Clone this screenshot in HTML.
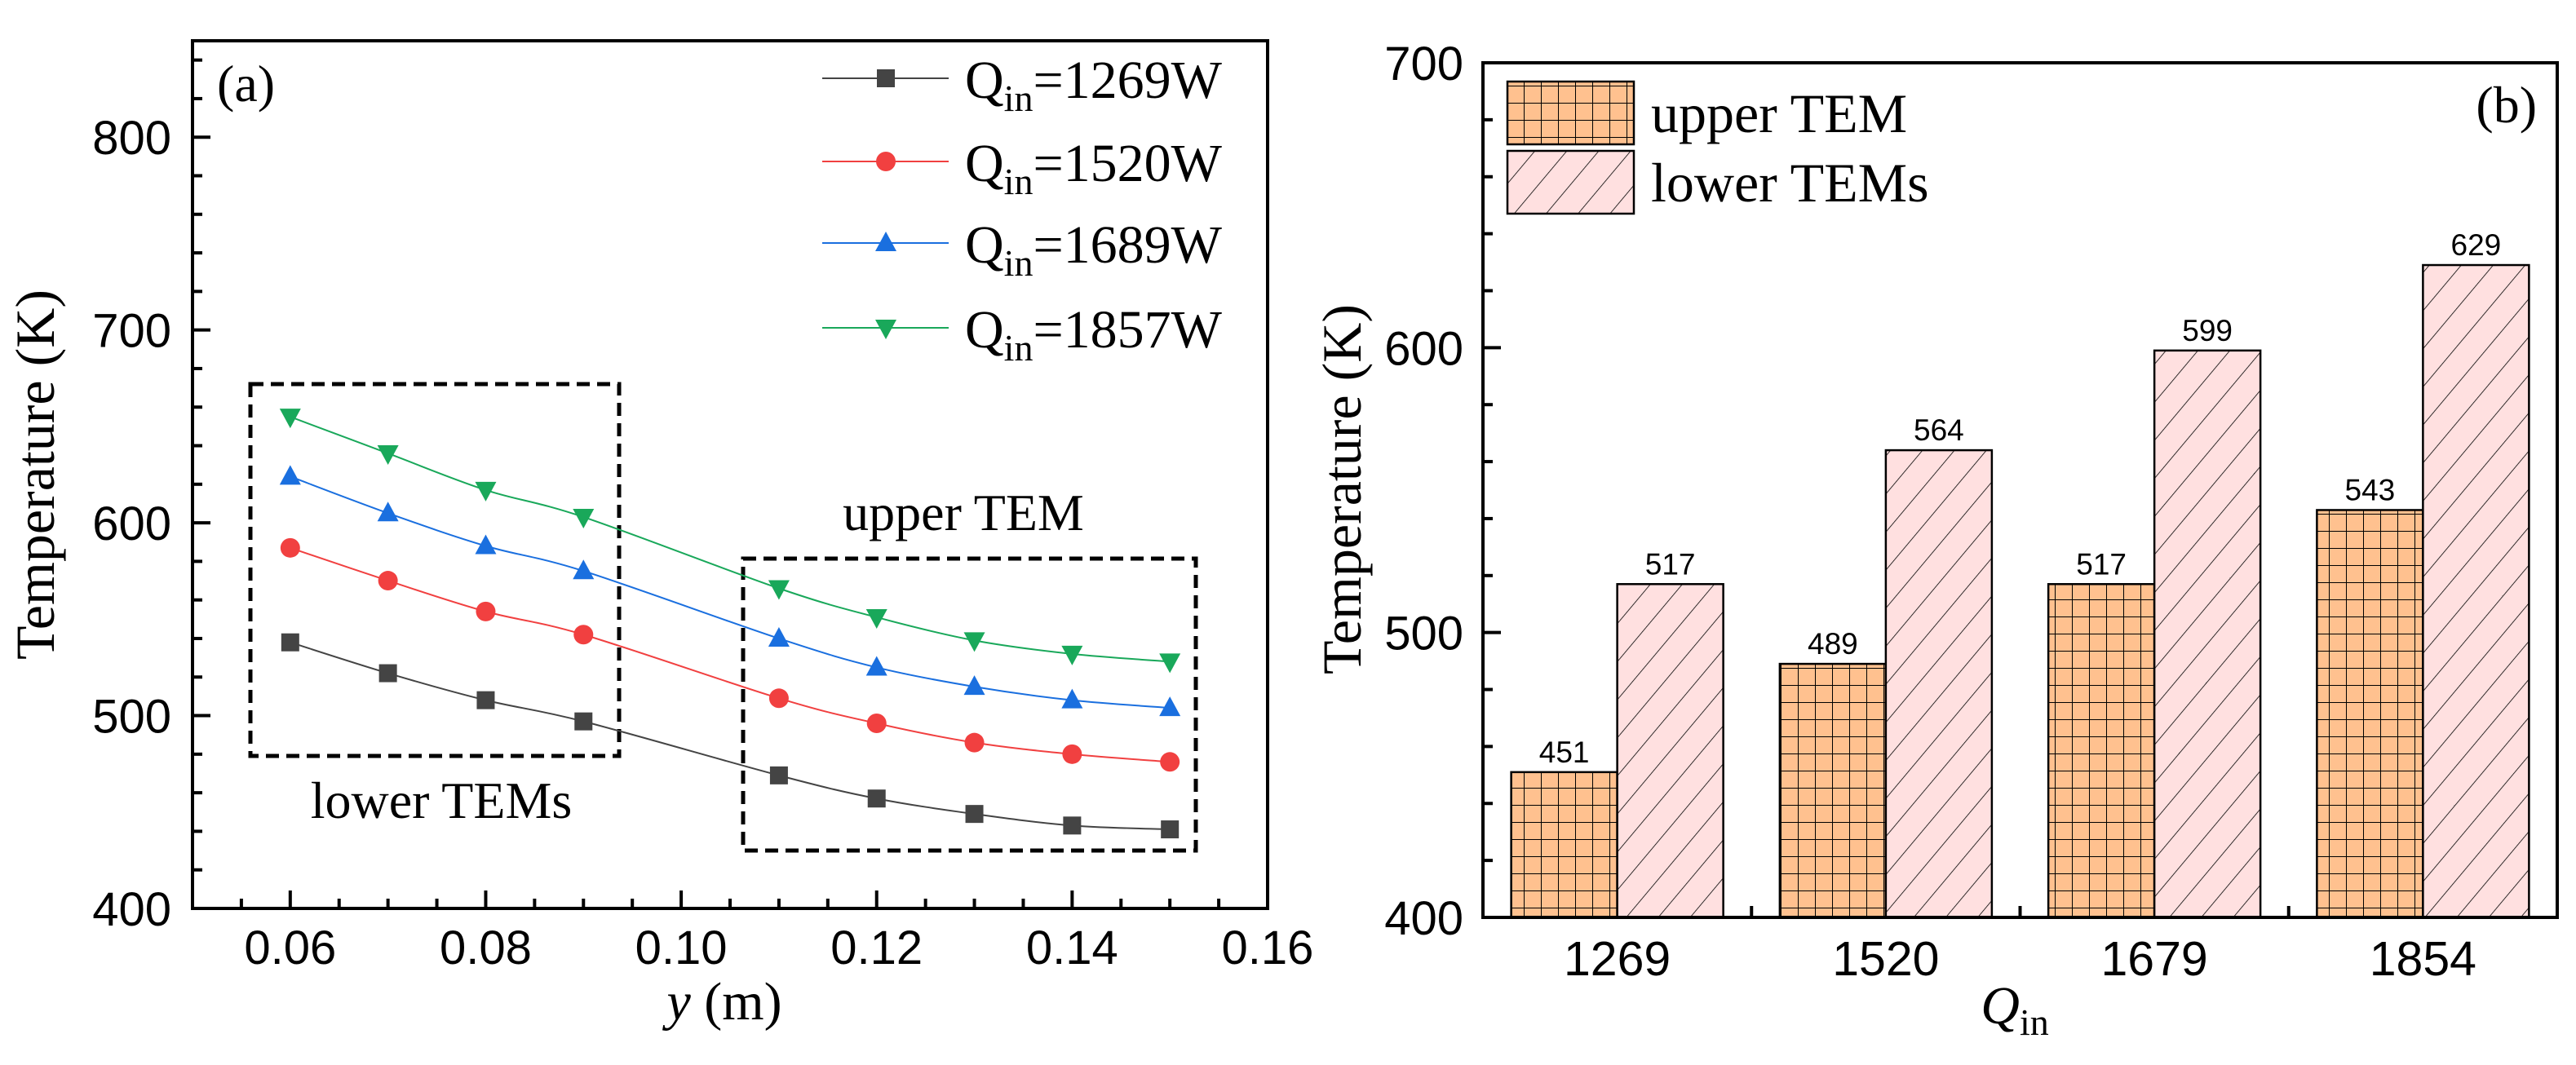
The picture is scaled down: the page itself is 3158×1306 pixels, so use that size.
<!DOCTYPE html>
<html><head><meta charset="utf-8">
<style>
html,body{margin:0;padding:0;background:#fff;}
svg{display:block;}
.sans{font-family:"Liberation Sans",Arial,sans-serif;}
.serif{font-family:"Liberation Serif","Times New Roman",serif;}
</style></head>
<body>
<svg id="fig" width="3158" height="1306" viewBox="0 0 3158 1306" xmlns="http://www.w3.org/2000/svg">
<defs>
<pattern id="gridPat" patternUnits="userSpaceOnUse" width="21" height="21" x="1847" y="0">
<rect width="21" height="21" fill="#FFC18F"/>
<path d="M0 0V21M0 0H21" stroke="#000" stroke-width="2"/>
</pattern>
<pattern id="diagPat" patternUnits="userSpaceOnUse" width="30" height="30" patternTransform="rotate(40)">
<rect width="30" height="30" fill="#FFE0E0"/>
<path d="M0 0V30" stroke="#000" stroke-width="1.6"/>
</pattern>
</defs>
<g id="panelA"></g>
<g id="panelB"></g>
</svg>
<script>
// ---------- Panel (a) data ----------
const xsA = [0.06,0.07,0.08,0.09,0.11,0.12,0.13,0.14,0.15];
const s1269 = [538,522,508,497,469,457,449,443,441];
const s1520 = [587,570,554,542,509,496,486,480,476];
const s1689 = [624,605,588,575,540,525,515,508,504];
const s1857 = [655,636,617,603,566,551,539,532,528];
const seriesLabels = ["1269","1520","1689","1857"];
const xTicksA = [0.06,0.08,0.10,0.12,0.14,0.16];
const yTicksA = [400,500,600,700,800];
// ---------- Panel (b) data ----------
const catsB = ["1269","1520","1679","1854"];
const upperB = [451,489,517,543];
const lowerB = [517,564,599,629];
const yTicksB = [400,500,600,700];

const NS="http://www.w3.org/2000/svg";
function mk(parent,tag,attrs,text){const e=document.createElementNS(NS,tag);for(const k in attrs)e.setAttribute(k,attrs[k]);if(text!==undefined)e.textContent=text;parent.appendChild(e);return e;}

// ===== Panel A =====
const A=document.getElementById('panelA');
const aL=236,aR=1554,aT=50,aB=1114;
const xA=v=>aL+(v-0.05)/(0.16-0.05)*(aR-aL);
const yA=v=>aB-(v-400)/(850-400)*(aB-aT);
// ticks
for(let v=0.05;v<=0.1601;v+=0.005){const px=xA(v);const major=Math.abs(Math.round(v*100)/100-v)<1e-6&&Math.round(v*100)%2===0;
 const t=mk(A,'line',{x1:px,x2:px,y1:aB,y2:aB-(major?22:12),stroke:'#000','stroke-width':4});
 
 }
for(let v=400;v<=850;v+=20){const py=yA(v);const major=v%100===0;
 const t=mk(A,'line',{x1:aL,x2:aL+(major?22:12),y1:py,y2:py,stroke:'#000','stroke-width':4});
 
 }
mk(A,'rect',{x:aL,y:aT,width:aR-aL,height:aB-aT,fill:'none',stroke:'#000','stroke-width':4,});
xTicksA.forEach(v=>{const t=mk(A,'text',{x:xA(v),y:1182,'text-anchor':'middle','font-size':58,class:'sans'},v.toFixed(2));
 
 });
yTicksA.forEach(v=>{const t=mk(A,'text',{x:210,y:yA(v)+21,'text-anchor':'end','font-size':58,class:'sans'},String(v));
 
 });
mk(A,'text',{x:0,y:0,transform:'translate(66,582) rotate(-90)','text-anchor':'middle','font-size':68,class:'serif',},'Temperature (K)');
const xt=mk(A,'text',{x:888,y:1250,'text-anchor':'middle','font-size':66,class:'serif',});
mk(xt,'tspan',{'font-style':'italic'},'y');mk(xt,'tspan',{},' (m)');
mk(A,'text',{x:266,y:124,'font-size':64,class:'serif',},'(a)');
// dashed boxes
mk(A,'rect',{x:307,y:471,width:452,height:456,fill:'none',stroke:'#000','stroke-width':5,'stroke-dasharray':'16 9',});
mk(A,'rect',{x:911,y:685,width:555,height:358,fill:'none',stroke:'#000','stroke-width':5,'stroke-dasharray':'16 9',});
mk(A,'text',{x:541,y:1003,'text-anchor':'middle','font-size':64,class:'serif',},'lower TEMs');
mk(A,'text',{x:1181,y:650,'text-anchor':'middle','font-size':64,class:'serif',},'upper TEM');
// series
const colors=['#444444','#F14040','#1A6FDF','#19A85A'];
const allS=[s1269,s1520,s1689,s1857];
const markers=['square','circle','up','down'];
function marker(g,type,cx,cy,c){
 if(type==='square')return mk(g,'rect',{x:cx-11,y:cy-11,width:22,height:22,fill:c});
 if(type==='circle')return mk(g,'circle',{cx:cx,cy:cy,r:12,fill:c});
 if(type==='up')return mk(g,'polygon',{points:`${cx},${cy-14} ${cx-13},${cy+10} ${cx+13},${cy+10}`,fill:c});
 return mk(g,'polygon',{points:`${cx},${cy+14} ${cx-13},${cy-10} ${cx+13},${cy-10}`,fill:c});
}
function spline(pts){let d=`M${pts[0][0]},${pts[0][1]}`;
 for(let i=0;i<pts.length-1;i++){const p0=pts[Math.max(0,i-1)],p1=pts[i],p2=pts[i+1],p3=pts[Math.min(pts.length-1,i+2)];
  const c1=[p1[0]+(p2[0]-p0[0])/6,p1[1]+(p2[1]-p0[1])/6],c2=[p2[0]-(p3[0]-p1[0])/6,p2[1]-(p3[1]-p1[1])/6];
  d+=` C${c1[0]},${c1[1]} ${c2[0]},${c2[1]} ${p2[0]},${p2[1]}`;}return d;}
allS.forEach((s,k)=>{
 const g=mk(A,'g',{});
 
 
 const pts=xsA.map((x,i)=>[xA(x),yA(s[i])]);
 mk(g,'path',{d:spline(pts),fill:'none',stroke:colors[k],'stroke-width':2});
 pts.forEach(p=>{const m=marker(g,markers[k],p[0],p[1],colors[k]);
  
  });
 // legend
 const ly=[96,198,298,402][k];
 const lg=mk(A,'g',{});
 
 
 mk(lg,'line',{x1:1008,x2:1163,y1:ly,y2:ly,stroke:colors[k],'stroke-width':2});
 marker(lg,markers[k],1086,ly,colors[k]);
 const tx=mk(lg,'text',{x:1183,y:ly+24,'font-size':66,class:'serif'});
 mk(tx,'tspan',{},'Q');mk(tx,'tspan',{dy:16,'font-size':46},'in');mk(tx,'tspan',{dy:-16},'='+seriesLabels[k]+'W');
});

// ===== Panel B =====
const B=document.getElementById('panelB');
const bL=1818,bR=3135,bT=77,bB=1125;
const yB=v=>bB-(v-400)/(700-400)*(bB-bT);
const band=(bR-bL)/catsB.length;
const barW=130;
catsB.forEach((c,i)=>{
 const cx=bL+band*(i+0.5);
 const ux=cx-barW, lx=cx;
 const ub=mk(B,'rect',{x:ux,y:yB(upperB[i]),width:barW,height:bB-yB(upperB[i]),fill:'url(#gridPat)',stroke:'#000','stroke-width':2.5});
 
 
 const lb=mk(B,'rect',{x:lx,y:yB(lowerB[i]),width:barW,height:bB-yB(lowerB[i]),fill:'url(#diagPat)',stroke:'#000','stroke-width':2.5});
 
 
 const t1=mk(B,'text',{x:ux+barW/2,y:yB(upperB[i])-12,'text-anchor':'middle','font-size':37,class:'sans'},String(upperB[i]));
 
 
 const t2=mk(B,'text',{x:lx+barW/2,y:yB(lowerB[i])-12,'text-anchor':'middle','font-size':37,class:'sans'},String(lowerB[i]));
 
 
 const tl=mk(B,'text',{x:cx,y:1196,'text-anchor':'middle','font-size':59,class:'sans'},c);
 
 
 if(i>0){const t=mk(B,'line',{x1:bL+band*i,x2:bL+band*i,y1:bB,y2:bB-14,stroke:'#000','stroke-width':4});
  
  }
});
for(let v=400;v<=700;v+=20){const py=yB(v);const major=v%100===0;
 const t=mk(B,'line',{x1:bL,x2:bL+(major?22:12),y1:py,y2:py,stroke:'#000','stroke-width':4});
 
 }
yTicksB.forEach(v=>{const t=mk(B,'text',{x:1794,y:yB(v)+21,'text-anchor':'end','font-size':58,class:'sans'},String(v));
 
 });
mk(B,'rect',{x:bL,y:bT,width:bR-bL,height:bB-bT,fill:'none',stroke:'#000','stroke-width':4,});
mk(B,'text',{x:0,y:0,transform:'translate(1668,600) rotate(-90)','text-anchor':'middle','font-size':68,class:'serif',},'Temperature (K)');
const qt=mk(B,'text',{x:2470,y:1255,'text-anchor':'middle','font-size':66,class:'serif',});
mk(qt,'tspan',{'font-style':'italic'},'Q');mk(qt,'tspan',{dy:14,'font-size':46},'in');
mk(B,'text',{x:3110,y:150,'text-anchor':'end','font-size':64,class:'serif',},'(b)');
const lg1=mk(B,'g',{});
mk(lg1,'rect',{x:1848,y:100,width:155,height:77,fill:'url(#gridPat)',stroke:'#000','stroke-width':2.5});
mk(lg1,'text',{x:2024,y:162,'font-size':68,class:'serif'},'upper TEM');
const lg2=mk(B,'g',{});
mk(lg2,'rect',{x:1848,y:185,width:155,height:77,fill:'url(#diagPat)',stroke:'#000','stroke-width':2.5});
mk(lg2,'text',{x:2024,y:247,'font-size':68,class:'serif'},'lower TEMs');
</script>
</body></html>
